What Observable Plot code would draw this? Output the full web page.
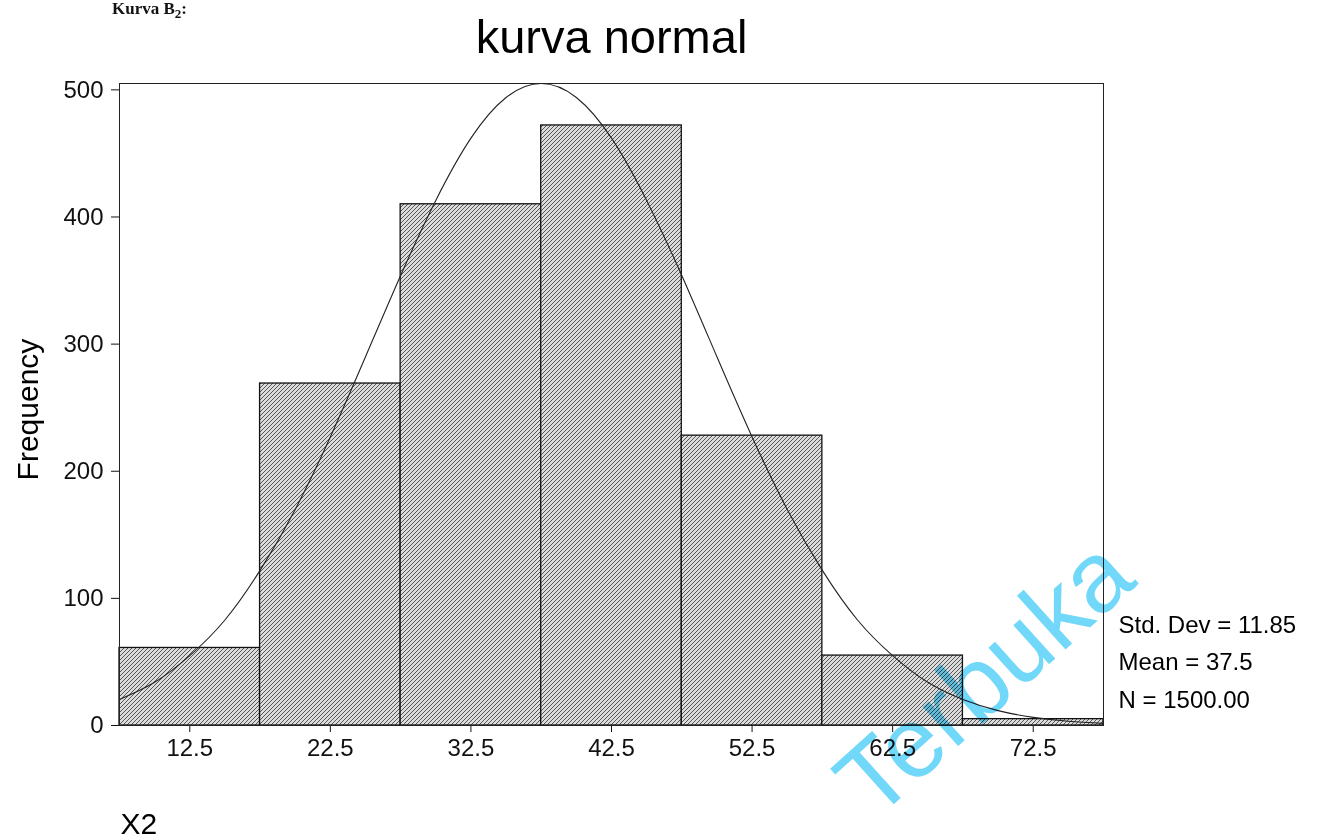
<!DOCTYPE html>
<html>
<head>
<meta charset="utf-8">
<script src="https://cdn.jsdelivr.net/npm/d3@7"></script>
<script src="https://cdn.jsdelivr.net/npm/@observablehq/plot@0.6"></script>
<style>
  html, body { margin: 0; padding: 0; background: #fff; }
  #wrap { position: relative; width: 1323px; height: 838px; overflow: hidden; background: #fff; }
  #cut { position: absolute; left: 112px; top: 0px; font: bold 17px "Liberation Serif", serif; line-height: 18px; color: #111; white-space: nowrap; }
  #wrap svg { position: absolute; left: 0; top: 0; }
</style>
</head>
<body>
<div id="wrap"><div id="cut">Kurva B<sub style="font-size:13px">2</sub>:</div></div>
<script>
// ---- data ----
const binCenters = [12.5, 22.5, 32.5, 42.5, 52.5, 62.5, 72.5];
const frequencies = [61, 269, 410, 472, 228, 55, 5];
const binWidth = 10;
const xTicks = [12.5, 22.5, 32.5, 42.5, 52.5, 62.5, 72.5];
const yTicks = [0, 100, 200, 300, 400, 500];
const curveX = [7.5, 10, 12.5, 15, 17.5, 20, 22.5, 25, 27.5, 30, 32.5, 35, 37.5, 40, 42.5, 45, 47.5, 50, 52.5, 55, 57.5, 60, 62.5, 65, 67.5, 70, 72.5, 75, 77.5];
const curveY = [20.5, 34, 55, 83, 122, 170, 227, 290, 354, 413, 462, 494, 505, 494, 462, 413, 354, 290, 227, 170, 122, 83, 55, 34, 20.5, 11.7, 6.4, 3.4, 1.7];
const titleText = "kurva normal";
const yLabel = "Frequency";
const xLabel = "X2";
const statLines = ["Std. Dev = 11.85", "Mean = 37.5", "N = 1500.00"];
const watermark = "Terbuka";

const bars = binCenters.map((c, i) => ({x1: c - binWidth / 2, x2: c + binWidth / 2, y: frequencies[i]}));
const curve = curveX.map((x, i) => ({x, y: curveY[i]}));

const BAR_TMP = "#a7a7a7";

const chart = Plot.plot({
  width: 1323,
  height: 838,
  marginLeft: 119,
  marginRight: 220,
  marginTop: 83,
  marginBottom: 113,
  style: {fontFamily: "'Liberation Sans', Arial, sans-serif", fontSize: "24px", background: "transparent", color: "#111", overflow: "visible"},
  x: {domain: [7.5, 77.5], ticks: xTicks, tickFormat: d => d.toFixed(1), tickSize: 7, tickPadding: 6, label: null},
  y: {domain: [0, 505], ticks: yTicks, tickSize: 8, tickPadding: 8, label: null},
  marks: [
    Plot.rectY(bars, {x1: "x1", x2: "x2", y: "y", fill: BAR_TMP, stroke: "#111", strokeWidth: 1.3}),
    Plot.line(curve, {x: "x", y: "y", curve: "natural", stroke: "#222", strokeWidth: 1.1}),
    Plot.frame({stroke: "#222", strokeWidth: 1}),
    Plot.text([titleText], {frameAnchor: "top", textAnchor: "middle", lineAnchor: "bottom", dy: -31, fontSize: 47, fill: "#000"}),
    Plot.text([yLabel], {frameAnchor: "left", textAnchor: "middle", lineAnchor: "middle", rotate: -90, dx: -91, dy: 5, fontSize: 30, fill: "#000"}),
    Plot.text([xLabel], {frameAnchor: "bottom-left", textAnchor: "start", lineAnchor: "bottom", dx: 1, dy: 108, fontSize: 30, fill: "#000"}),
    Plot.text([statLines.join("\n")], {frameAnchor: "bottom-right", textAnchor: "start", lineAnchor: "bottom", dx: 15, dy: -18, lineHeight: 1.55, fontSize: 24, fill: "#000"}),
    Plot.text([watermark], {frameAnchor: "bottom-left", textAnchor: "start", lineAnchor: "bottom", dx: 755, dy: 96, rotate: -42, fontSize: 100, fill: "#72d8fa", mixBlendMode: "multiply"})
  ]
});

// hatch pattern for the bars
const ns = "http://www.w3.org/2000/svg";
const defs = document.createElementNS(ns, "defs");
defs.innerHTML = `<pattern id="hatch" patternUnits="userSpaceOnUse" width="4" height="4">
  <rect width="4" height="4" fill="#dcdcdc"></rect>
  <path d="M-1,1 l2,-2 M0,4 l4,-4 M3,5 l2,-2" stroke="#555" stroke-width="1"></path>
</pattern>`;
chart.insertBefore(defs, chart.firstChild);
chart.querySelectorAll(`[fill="${BAR_TMP}"]`).forEach(g => g.setAttribute("fill", "url(#hatch)"));

document.getElementById("wrap").appendChild(chart);
</script>
</body>
</html>
